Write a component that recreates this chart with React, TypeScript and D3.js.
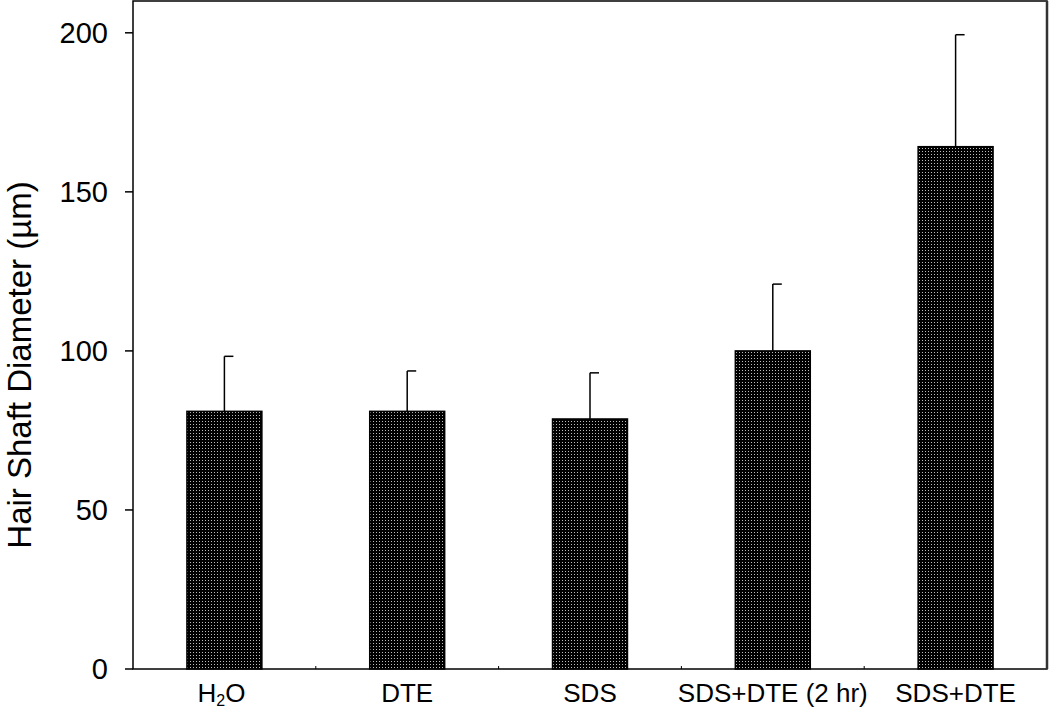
import React from "react";
import * as d3 from "d3";

const categories = ["H2O", "DTE", "SDS", "SDS+DTE (2 hr)", "SDS+DTE"];
const means = [81, 81, 78.6, 100, 164.2];
const errorsUp = [17.3, 12.7, 14.5, 21, 35.2];
const yTicks = [0, 50, 100, 150, 200];

const W = 1050;
const H = 709;
const M = { left: 133, right: 3, top: 1, bottom: 40 };

export default function App() {
  const x = d3
    .scaleBand<string>()
    .domain(categories)
    .range([M.left, W - M.right])
    .paddingInner(0.59)
    .paddingOuter(0.295);
  const band = d3.scaleBand<string>().domain(categories).range([M.left, W - M.right]);
  const y = d3.scaleLinear().domain([0, 210]).range([H - M.bottom, M.top]);
  const font = "Arial, 'Liberation Sans', sans-serif";
  const y0 = y(0);
  return (
    <svg
      width={W}
      height={H}
      style={{ position: "absolute", left: 0, top: 0, display: "block", background: "#fff" }}
    >
      <defs>
        <pattern id="dots" width={3} height={3} patternUnits="userSpaceOnUse">
          <rect width={3} height={3} fill="#000" />
          <rect x={1} y={1} width={1} height={1} fill="#bdbdbd" />
        </pattern>
      </defs>
      {/* frame */}
      <rect
        x={M.left}
        y={M.top}
        width={W - M.right - M.left}
        height={y0 - M.top}
        fill="none"
        stroke="#000"
        strokeWidth={1.5}
      />
      <line x1={W - M.right} x2={W - M.right} y1={M.top} y2={y0} stroke="#333" strokeWidth={2.5} />
      {/* category boundary ticks */}
      {categories.slice(1).map((c) => (
        <line key={c} x1={band(c)!} x2={band(c)!} y1={y0} y2={y0 - 3} stroke="#000" strokeWidth={1} />
      ))}
      {/* y ticks */}
      {yTicks.map((t) => (
        <g key={t}>
          <line x1={M.left - 8} x2={M.left} y1={y(t)} y2={y(t)} stroke="#000" strokeWidth={1.5} />
          <text
            x={108}
            y={y(t)}
            dy="0.36em"
            textAnchor="end"
            fontFamily={font}
            fontSize={29}
            fill="#000"
          >
            {t}
          </text>
        </g>
      ))}
      {/* bars */}
      {categories.map((c, i) => {
        const bx = x(c)!;
        const bw = x.bandwidth();
        const cx = bx + bw / 2;
        return (
          <g key={c}>
            <line x1={cx} x2={cx} y1={y(means[i])} y2={y(means[i] + errorsUp[i])} stroke="#000" strokeWidth={1.5} />
            <line
              x1={cx}
              x2={cx + 9}
              y1={y(means[i] + errorsUp[i])}
              y2={y(means[i] + errorsUp[i])}
              stroke="#000"
              strokeWidth={1.5}
            />
            <rect
              x={bx}
              y={y(means[i])}
              width={bw}
              height={y0 - y(means[i])}
              fill="url(#dots)"
              stroke="#000"
              strokeWidth={1.5}
            />
          </g>
        );
      })}
      {/* x labels */}
      {categories.map((c) => {
        const cx = band(c)! + band.bandwidth() / 2;
        if (c === "H2O") {
          return (
            <text key={c} x={cx - 3} y={702} textAnchor="middle" fontFamily={font} fontSize={26} fill="#000">
              H<tspan fontSize={16} dy={4}>2</tspan>
              <tspan dy={-4}>O</tspan>
            </text>
          );
        }
        return (
          <text key={c} x={cx} y={702} textAnchor="middle" fontFamily={font} fontSize={26} fill="#000">
            {c}
          </text>
        );
      })}
      {/* y title */}
      <text
        transform={`translate(31, 365) rotate(-90)`}
        textAnchor="middle"
        fontFamily={font}
        fontSize={33}
        fill="#000"
      >
        Hair Shaft Diameter (µm)
      </text>
    </svg>
  );
}
